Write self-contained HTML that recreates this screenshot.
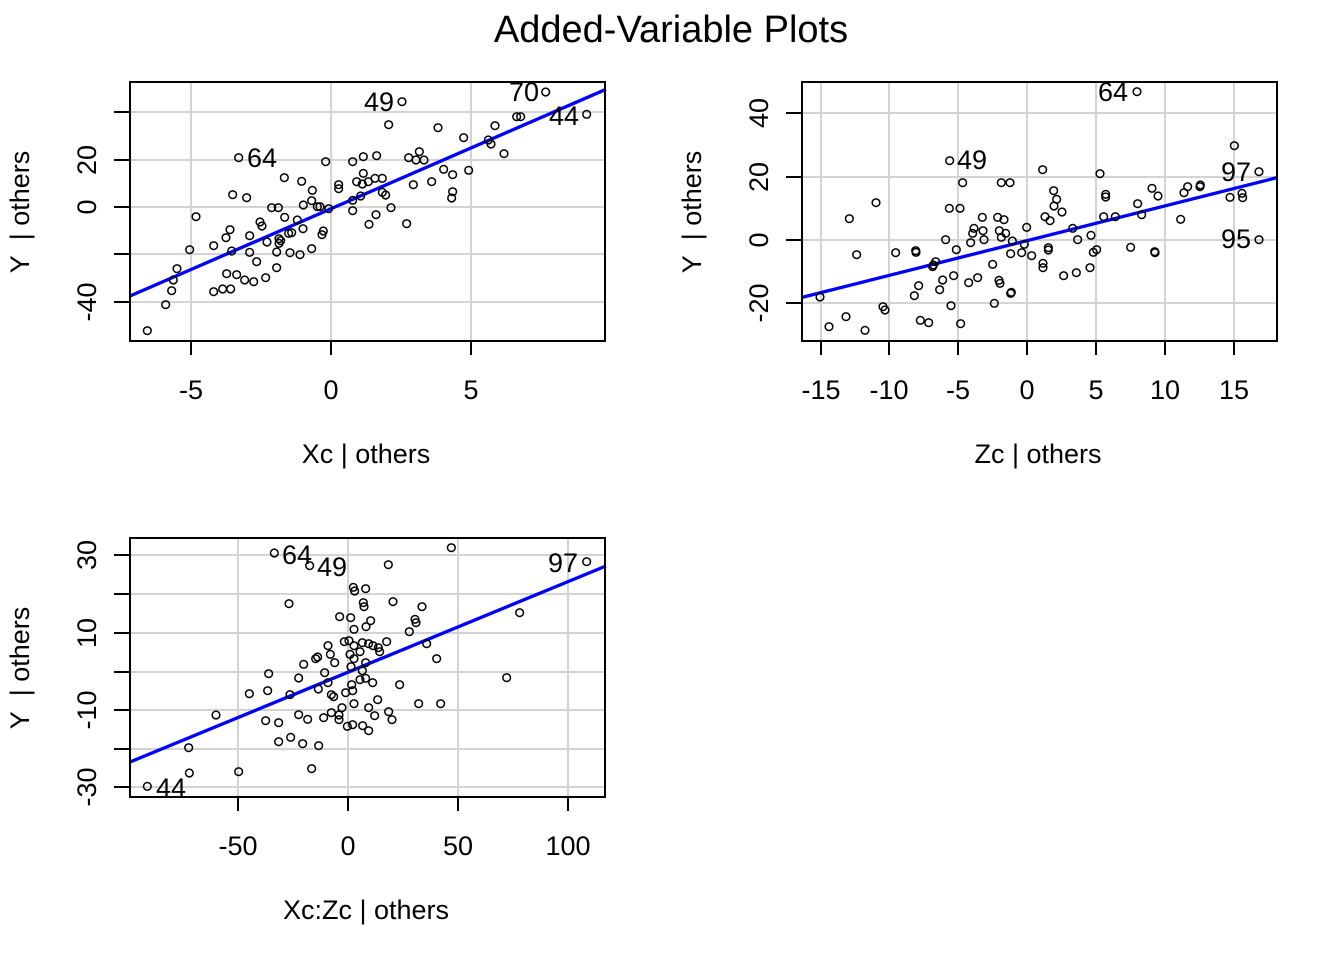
<!DOCTYPE html>
<html><head><meta charset="utf-8"><style>
html,body{margin:0;padding:0;background:#fff;}
svg text{font-family:"Liberation Sans",Arial,sans-serif;fill:#000;}
</style></head><body>
<svg width="1344" height="960" viewBox="0 0 1344 960" xmlns="http://www.w3.org/2000/svg">
<rect width="1344" height="960" fill="#fff"/>
<text x="671" y="42" font-size="38" text-anchor="middle">Added-Variable Plots</text>

<!-- Panel 1 -->
<g stroke="#d3d3d3" stroke-width="2">
<line x1="191" y1="82" x2="191" y2="341"/><line x1="331" y1="82" x2="331" y2="341"/><line x1="471" y1="82" x2="471" y2="341"/>
<line x1="130" y1="112" x2="605" y2="112"/><line x1="130" y1="160" x2="605" y2="160"/><line x1="130" y1="207" x2="605" y2="207"/><line x1="130" y1="254" x2="605" y2="254"/><line x1="130" y1="302" x2="605" y2="302"/>
</g>
<g transform="translate(130,80) scale(0.33333)" fill="none" stroke="#000" stroke-width="4.5">
<line x1="0" y1="648" x2="1428" y2="28" stroke="#0000ff" stroke-width="10"/>
<g>
<circle cx="52" cy="752" r="11.5"/><circle cx="107" cy="674" r="11.5"/><circle cx="125" cy="632" r="11.5"/><circle cx="130" cy="600" r="11.5"/><circle cx="141" cy="566" r="11.5"/><circle cx="179" cy="509" r="11.5"/><circle cx="198" cy="410" r="11.5"/><circle cx="251" cy="497" r="11.5"/><circle cx="251" cy="635" r="11.5"/><circle cx="278" cy="627" r="11.5"/><circle cx="302" cy="627" r="11.5"/><circle cx="290" cy="581" r="11.5"/><circle cx="320" cy="584" r="11.5"/><circle cx="344" cy="600" r="11.5"/><circle cx="371" cy="605" r="11.5"/><circle cx="407" cy="593" r="11.5"/><circle cx="380" cy="545" r="11.5"/><circle cx="359" cy="517" r="11.5"/><circle cx="305" cy="513" r="11.5"/><circle cx="288" cy="473" r="11.5"/><circle cx="300" cy="449" r="11.5"/><circle cx="359" cy="467" r="11.5"/><circle cx="390" cy="426" r="11.5"/><circle cx="396" cy="438" r="11.5"/><circle cx="411" cy="486" r="11.5"/><circle cx="440" cy="516" r="11.5"/><circle cx="440" cy="563" r="11.5"/><circle cx="447" cy="490" r="11.5"/><circle cx="452" cy="482" r="11.5"/><circle cx="447" cy="476" r="11.5"/><circle cx="480" cy="518" r="11.5"/><circle cx="510" cy="524" r="11.5"/><circle cx="545" cy="506" r="11.5"/><circle cx="476" cy="460" r="11.5"/><circle cx="485" cy="458" r="11.5"/><circle cx="519" cy="446" r="11.5"/><circle cx="502" cy="420" r="11.5"/><circle cx="464" cy="412" r="11.5"/><circle cx="425" cy="383" r="11.5"/><circle cx="445" cy="383" r="11.5"/><circle cx="308" cy="344" r="11.5"/><circle cx="350" cy="353" r="11.5"/><circle cx="326" cy="233" r="11.5"/><circle cx="463" cy="293" r="11.5"/><circle cx="515" cy="304" r="11.5"/><circle cx="547" cy="331" r="11.5"/><circle cx="545" cy="362" r="11.5"/><circle cx="520" cy="375" r="11.5"/><circle cx="562" cy="380" r="11.5"/><circle cx="570" cy="380" r="11.5"/><circle cx="596" cy="386" r="11.5"/><circle cx="580" cy="453" r="11.5"/><circle cx="576" cy="464" r="11.5"/><circle cx="587" cy="245" r="11.5"/><circle cx="626" cy="314" r="11.5"/><circle cx="626" cy="326" r="11.5"/><circle cx="668" cy="245" r="11.5"/><circle cx="700" cy="230" r="11.5"/><circle cx="740" cy="227" r="11.5"/><circle cx="680" cy="305" r="11.5"/><circle cx="700" cy="280" r="11.5"/><circle cx="697" cy="312" r="11.5"/><circle cx="715" cy="305" r="11.5"/><circle cx="735" cy="295" r="11.5"/><circle cx="757" cy="295" r="11.5"/><circle cx="757" cy="337" r="11.5"/><circle cx="767" cy="345" r="11.5"/><circle cx="692" cy="348" r="11.5"/><circle cx="668" cy="361" r="11.5"/><circle cx="668" cy="392" r="11.5"/><circle cx="717" cy="433" r="11.5"/><circle cx="738" cy="404" r="11.5"/><circle cx="783" cy="383" r="11.5"/><circle cx="830" cy="431" r="11.5"/><circle cx="776" cy="134" r="11.5"/><circle cx="816" cy="65" r="11.5"/><circle cx="836" cy="233" r="11.5"/><circle cx="858" cy="240" r="11.5"/><circle cx="868" cy="215" r="11.5"/><circle cx="882" cy="240" r="11.5"/><circle cx="850" cy="314" r="11.5"/><circle cx="905" cy="305" r="11.5"/><circle cx="941" cy="268" r="11.5"/><circle cx="968" cy="284" r="11.5"/><circle cx="968" cy="335" r="11.5"/><circle cx="965" cy="354" r="11.5"/><circle cx="1016" cy="271" r="11.5"/><circle cx="1001" cy="173" r="11.5"/><circle cx="924" cy="143" r="11.5"/><circle cx="1075" cy="180" r="11.5"/><circle cx="1083" cy="192" r="11.5"/><circle cx="1095" cy="137" r="11.5"/><circle cx="1122" cy="221" r="11.5"/><circle cx="1160" cy="110" r="11.5"/><circle cx="1172" cy="110" r="11.5"/><circle cx="1247" cy="36" r="11.5"/><circle cx="1370" cy="103" r="11.5"/>
</g></g>
<g font-size="27"><text x="247" y="167">64</text><text x="364" y="111">49</text><text x="509" y="101">70</text><text x="549" y="125">44</text></g>
<rect x="130" y="82" width="475" height="259" fill="none" stroke="#000" stroke-width="2"/>
<g stroke="#000" stroke-width="2"><line x1="191" y1="341" x2="191" y2="355"/><line x1="331" y1="341" x2="331" y2="355"/><line x1="471" y1="341" x2="471" y2="355"/>
<line x1="114" y1="112" x2="130" y2="112"/><line x1="114" y1="160" x2="130" y2="160"/><line x1="114" y1="207" x2="130" y2="207"/><line x1="114" y1="254" x2="130" y2="254"/><line x1="114" y1="302" x2="130" y2="302"/></g>
<g font-size="27" text-anchor="middle"><text x="191" y="399">-5</text><text x="331" y="399">0</text><text x="471" y="399">5</text><text x="366" y="463">Xc | others</text>
<text transform="translate(96,160) rotate(-90)">20</text><text transform="translate(96,207) rotate(-90)">0</text><text transform="translate(96,302) rotate(-90)">-40</text>
<text transform="translate(29,212) rotate(-90)">Y&#160; | others</text></g>

<!-- Panel 2 -->
<g stroke="#d3d3d3" stroke-width="2">
<line x1="821" y1="82" x2="821" y2="341"/><line x1="889" y1="82" x2="889" y2="341"/><line x1="958" y1="82" x2="958" y2="341"/><line x1="1027" y1="82" x2="1027" y2="341"/><line x1="1096" y1="82" x2="1096" y2="341"/><line x1="1165" y1="82" x2="1165" y2="341"/><line x1="1234" y1="82" x2="1234" y2="341"/>
<line x1="802" y1="113" x2="1277" y2="113"/><line x1="802" y1="177" x2="1277" y2="177"/><line x1="802" y1="240" x2="1277" y2="240"/><line x1="802" y1="303" x2="1277" y2="303"/>
</g>
<g transform="translate(800,80) scale(0.33333)" fill="none" stroke="#000" stroke-width="4.5">
<line x1="6" y1="652" x2="1431" y2="293" stroke="#0000ff" stroke-width="10"/>
<g>
<circle cx="60" cy="651" r="11.5"/><circle cx="87" cy="740" r="11.5"/><circle cx="138" cy="710" r="11.5"/><circle cx="195" cy="751" r="11.5"/><circle cx="170" cy="524" r="11.5"/><circle cx="148" cy="416" r="11.5"/><circle cx="228" cy="368" r="11.5"/><circle cx="249" cy="680" r="11.5"/><circle cx="255" cy="690" r="11.5"/><circle cx="287" cy="518" r="11.5"/><circle cx="347" cy="512" r="11.5"/><circle cx="348" cy="517" r="11.5"/><circle cx="343" cy="647" r="11.5"/><circle cx="356" cy="617" r="11.5"/><circle cx="361" cy="721" r="11.5"/><circle cx="386" cy="728" r="11.5"/><circle cx="398" cy="560" r="11.5"/><circle cx="400" cy="555" r="11.5"/><circle cx="407" cy="545" r="11.5"/><circle cx="419" cy="629" r="11.5"/><circle cx="428" cy="600" r="11.5"/><circle cx="453" cy="677" r="11.5"/><circle cx="461" cy="587" r="11.5"/><circle cx="482" cy="731" r="11.5"/><circle cx="469" cy="509" r="11.5"/><circle cx="437" cy="479" r="11.5"/><circle cx="448" cy="385" r="11.5"/><circle cx="480" cy="385" r="11.5"/><circle cx="488" cy="308" r="11.5"/><circle cx="449" cy="242" r="11.5"/><circle cx="506" cy="608" r="11.5"/><circle cx="533" cy="593" r="11.5"/><circle cx="583" cy="670" r="11.5"/><circle cx="578" cy="553" r="11.5"/><circle cx="597" cy="601" r="11.5"/><circle cx="600" cy="610" r="11.5"/><circle cx="632" cy="640" r="11.5"/><circle cx="634" cy="637" r="11.5"/><circle cx="632" cy="521" r="11.5"/><circle cx="665" cy="518" r="11.5"/><circle cx="695" cy="527" r="11.5"/><circle cx="673" cy="493" r="11.5"/><circle cx="680" cy="442" r="11.5"/><circle cx="637" cy="483" r="11.5"/><circle cx="604" cy="472" r="11.5"/><circle cx="617" cy="460" r="11.5"/><circle cx="598" cy="452" r="11.5"/><circle cx="612" cy="419" r="11.5"/><circle cx="593" cy="412" r="11.5"/><circle cx="604" cy="308" r="11.5"/><circle cx="630" cy="308" r="11.5"/><circle cx="547" cy="412" r="11.5"/><circle cx="549" cy="452" r="11.5"/><circle cx="552" cy="479" r="11.5"/><circle cx="522" cy="445" r="11.5"/><circle cx="518" cy="460" r="11.5"/><circle cx="512" cy="488" r="11.5"/><circle cx="728" cy="269" r="11.5"/><circle cx="761" cy="332" r="11.5"/><circle cx="770" cy="358" r="11.5"/><circle cx="762" cy="378" r="11.5"/><circle cx="786" cy="396" r="11.5"/><circle cx="735" cy="410" r="11.5"/><circle cx="750" cy="422" r="11.5"/><circle cx="745" cy="503" r="11.5"/><circle cx="745" cy="510" r="11.5"/><circle cx="729" cy="550" r="11.5"/><circle cx="729" cy="563" r="11.5"/><circle cx="791" cy="587" r="11.5"/><circle cx="829" cy="578" r="11.5"/><circle cx="870" cy="563" r="11.5"/><circle cx="880" cy="517" r="11.5"/><circle cx="890" cy="509" r="11.5"/><circle cx="873" cy="466" r="11.5"/><circle cx="833" cy="479" r="11.5"/><circle cx="818" cy="445" r="11.5"/><circle cx="900" cy="281" r="11.5"/><circle cx="917" cy="343" r="11.5"/><circle cx="917" cy="351" r="11.5"/><circle cx="911" cy="410" r="11.5"/><circle cx="946" cy="410" r="11.5"/><circle cx="992" cy="502" r="11.5"/><circle cx="1065" cy="518" r="11.5"/><circle cx="1064" cy="515" r="11.5"/><circle cx="1013" cy="371" r="11.5"/><circle cx="1025" cy="404" r="11.5"/><circle cx="1056" cy="325" r="11.5"/><circle cx="1074" cy="348" r="11.5"/><circle cx="1142" cy="418" r="11.5"/><circle cx="1152" cy="338" r="11.5"/><circle cx="1163" cy="320" r="11.5"/><circle cx="1200" cy="320" r="11.5"/><circle cx="1201" cy="315" r="11.5"/><circle cx="1290" cy="352" r="11.5"/><circle cx="1303" cy="197" r="11.5"/><circle cx="1326" cy="340" r="11.5"/><circle cx="1328" cy="353" r="11.5"/><circle cx="1377" cy="275" r="11.5"/><circle cx="1377" cy="479" r="11.5"/><circle cx="1011" cy="35" r="11.5"/>
</g></g>
<g font-size="27"><text x="1098" y="101">64</text><text x="957" y="169">49</text><text x="1221" y="181">97</text><text x="1221" y="248">95</text></g>
<rect x="802" y="82" width="475" height="259" fill="none" stroke="#000" stroke-width="2"/>
<g stroke="#000" stroke-width="2"><line x1="821" y1="341" x2="821" y2="355"/><line x1="889" y1="341" x2="889" y2="355"/><line x1="958" y1="341" x2="958" y2="355"/><line x1="1027" y1="341" x2="1027" y2="355"/><line x1="1096" y1="341" x2="1096" y2="355"/><line x1="1165" y1="341" x2="1165" y2="355"/><line x1="1234" y1="341" x2="1234" y2="355"/>
<line x1="786" y1="113" x2="802" y2="113"/><line x1="786" y1="177" x2="802" y2="177"/><line x1="786" y1="240" x2="802" y2="240"/><line x1="786" y1="303" x2="802" y2="303"/></g>
<g font-size="27" text-anchor="middle"><text x="821" y="399">-15</text><text x="889" y="399">-10</text><text x="958" y="399">-5</text><text x="1027" y="399">0</text><text x="1096" y="399">5</text><text x="1165" y="399">10</text><text x="1234" y="399">15</text><text x="1038" y="463">Zc | others</text>
<text transform="translate(768,113) rotate(-90)">40</text><text transform="translate(768,177) rotate(-90)">20</text><text transform="translate(768,240) rotate(-90)">0</text><text transform="translate(768,303) rotate(-90)">-20</text>
<text transform="translate(701,212) rotate(-90)">Y&#160; | others</text></g>

<!-- Panel 3 -->
<g stroke="#d3d3d3" stroke-width="2">
<line x1="238" y1="538" x2="238" y2="797"/><line x1="348" y1="538" x2="348" y2="797"/><line x1="458" y1="538" x2="458" y2="797"/><line x1="568" y1="538" x2="568" y2="797"/>
<line x1="130" y1="555" x2="605" y2="555"/><line x1="130" y1="594" x2="605" y2="594"/><line x1="130" y1="633" x2="605" y2="633"/><line x1="130" y1="672" x2="605" y2="672"/><line x1="130" y1="710" x2="605" y2="710"/><line x1="130" y1="749" x2="605" y2="749"/><line x1="130" y1="787" x2="605" y2="787"/>
</g>
<g transform="translate(130,536) scale(0.33333)" fill="none" stroke="#000" stroke-width="4.5">
<line x1="0" y1="678" x2="1428" y2="90" stroke="#0000ff" stroke-width="10"/>
<g>
<circle cx="52" cy="751" r="11.5"/><circle cx="178" cy="711" r="11.5"/><circle cx="176" cy="635" r="11.5"/><circle cx="326" cy="707" r="11.5"/><circle cx="258" cy="537" r="11.5"/><circle cx="545" cy="698" r="11.5"/><circle cx="446" cy="617" r="11.5"/><circle cx="482" cy="604" r="11.5"/><circle cx="518" cy="623" r="11.5"/><circle cx="566" cy="629" r="11.5"/><circle cx="407" cy="554" r="11.5"/><circle cx="446" cy="560" r="11.5"/><circle cx="506" cy="536" r="11.5"/><circle cx="533" cy="550" r="11.5"/><circle cx="581" cy="545" r="11.5"/><circle cx="604" cy="530" r="11.5"/><circle cx="627" cy="537" r="11.5"/><circle cx="627" cy="551" r="11.5"/><circle cx="636" cy="515" r="11.5"/><circle cx="652" cy="571" r="11.5"/><circle cx="668" cy="566" r="11.5"/><circle cx="698" cy="569" r="11.5"/><circle cx="716" cy="584" r="11.5"/><circle cx="734" cy="539" r="11.5"/><circle cx="716" cy="515" r="11.5"/><circle cx="776" cy="527" r="11.5"/><circle cx="786" cy="551" r="11.5"/><circle cx="866" cy="503" r="11.5"/><circle cx="932" cy="503" r="11.5"/><circle cx="743" cy="491" r="11.5"/><circle cx="672" cy="503" r="11.5"/><circle cx="358" cy="473" r="11.5"/><circle cx="413" cy="464" r="11.5"/><circle cx="480" cy="476" r="11.5"/><circle cx="565" cy="459" r="11.5"/><circle cx="604" cy="476" r="11.5"/><circle cx="611" cy="482" r="11.5"/><circle cx="647" cy="470" r="11.5"/><circle cx="668" cy="464" r="11.5"/><circle cx="665" cy="446" r="11.5"/><circle cx="690" cy="431" r="11.5"/><circle cx="707" cy="427" r="11.5"/><circle cx="728" cy="440" r="11.5"/><circle cx="809" cy="446" r="11.5"/><circle cx="416" cy="413" r="11.5"/><circle cx="506" cy="426" r="11.5"/><circle cx="521" cy="385" r="11.5"/><circle cx="557" cy="368" r="11.5"/><circle cx="563" cy="363" r="11.5"/><circle cx="584" cy="410" r="11.5"/><circle cx="594" cy="440" r="11.5"/><circle cx="614" cy="380" r="11.5"/><circle cx="601" cy="355" r="11.5"/><circle cx="594" cy="329" r="11.5"/><circle cx="643" cy="317" r="11.5"/><circle cx="657" cy="314" r="11.5"/><circle cx="660" cy="355" r="11.5"/><circle cx="663" cy="392" r="11.5"/><circle cx="672" cy="368" r="11.5"/><circle cx="690" cy="347" r="11.5"/><circle cx="697" cy="320" r="11.5"/><circle cx="672" cy="329" r="11.5"/><circle cx="716" cy="323" r="11.5"/><circle cx="729" cy="329" r="11.5"/><circle cx="745" cy="335" r="11.5"/><circle cx="749" cy="347" r="11.5"/><circle cx="770" cy="317" r="11.5"/><circle cx="697" cy="404" r="11.5"/><circle cx="707" cy="380" r="11.5"/><circle cx="890" cy="323" r="11.5"/><circle cx="920" cy="368" r="11.5"/><circle cx="838" cy="287" r="11.5"/><circle cx="855" cy="250" r="11.5"/><circle cx="858" cy="260" r="11.5"/><circle cx="876" cy="212" r="11.5"/><circle cx="789" cy="197" r="11.5"/><circle cx="672" cy="280" r="11.5"/><circle cx="708" cy="272" r="11.5"/><circle cx="722" cy="254" r="11.5"/><circle cx="629" cy="242" r="11.5"/><circle cx="662" cy="245" r="11.5"/><circle cx="700" cy="200" r="11.5"/><circle cx="702" cy="212" r="11.5"/><circle cx="707" cy="158" r="11.5"/><circle cx="670" cy="154" r="11.5"/><circle cx="674" cy="165" r="11.5"/><circle cx="477" cy="203" r="11.5"/><circle cx="775" cy="86" r="11.5"/><circle cx="964" cy="35" r="11.5"/><circle cx="1169" cy="230" r="11.5"/><circle cx="1130" cy="425" r="11.5"/><circle cx="1370" cy="77" r="11.5"/><circle cx="433" cy="51" r="11.5"/><circle cx="539" cy="89" r="11.5"/>
</g></g>
<g font-size="27"><text x="282" y="564">64</text><text x="317" y="576">49</text><text x="548" y="572">97</text><text x="156" y="797">44</text></g>
<rect x="130" y="538" width="475" height="259" fill="none" stroke="#000" stroke-width="2"/>
<g stroke="#000" stroke-width="2"><line x1="238" y1="797" x2="238" y2="811"/><line x1="348" y1="797" x2="348" y2="811"/><line x1="458" y1="797" x2="458" y2="811"/><line x1="568" y1="797" x2="568" y2="811"/>
<line x1="114" y1="555" x2="130" y2="555"/><line x1="114" y1="594" x2="130" y2="594"/><line x1="114" y1="633" x2="130" y2="633"/><line x1="114" y1="672" x2="130" y2="672"/><line x1="114" y1="710" x2="130" y2="710"/><line x1="114" y1="749" x2="130" y2="749"/><line x1="114" y1="787" x2="130" y2="787"/></g>
<g font-size="27" text-anchor="middle"><text x="238" y="855">-50</text><text x="348" y="855">0</text><text x="458" y="855">50</text><text x="568" y="855">100</text><text x="366" y="919">Xc:Zc | others</text>
<text transform="translate(96,555) rotate(-90)">30</text><text transform="translate(96,633) rotate(-90)">10</text><text transform="translate(96,710) rotate(-90)">-10</text><text transform="translate(96,787) rotate(-90)">-30</text>
<text transform="translate(29,668) rotate(-90)">Y&#160; | others</text></g>
</svg>
</body></html>
